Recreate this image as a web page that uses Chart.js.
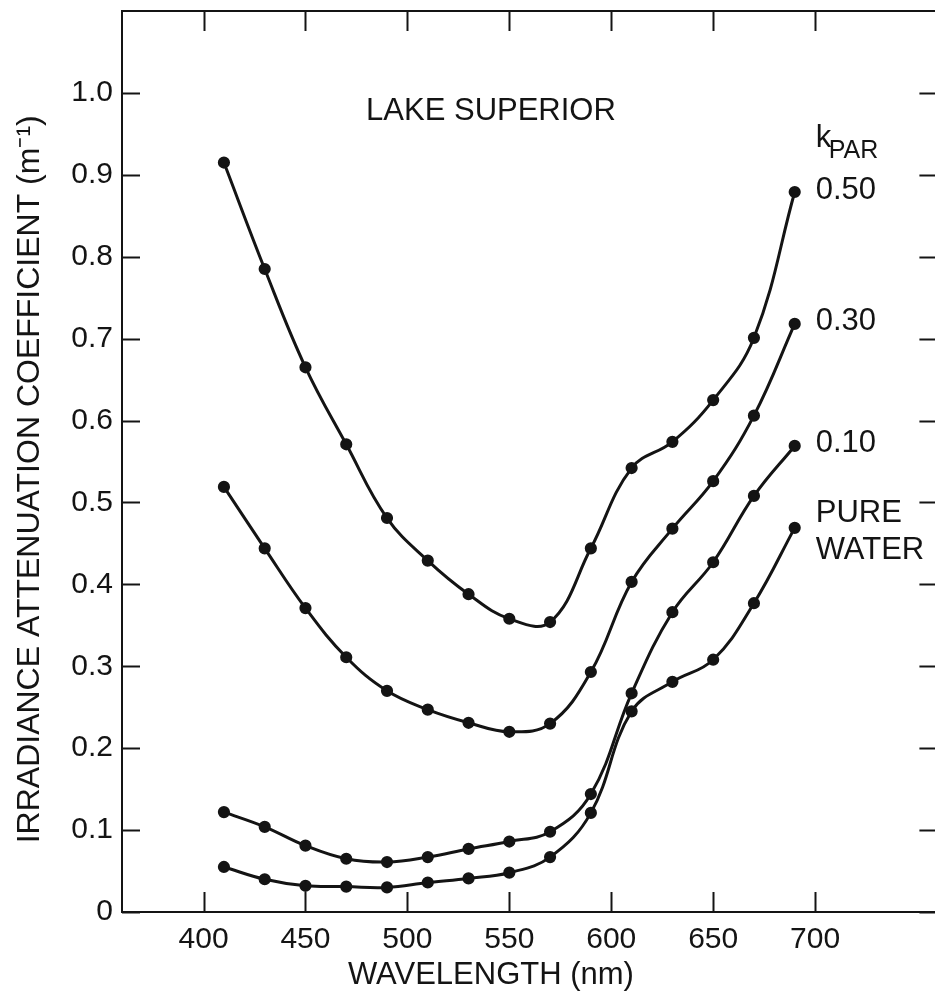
<!DOCTYPE html>
<html><head><meta charset="utf-8">
<script src="https://cdn.jsdelivr.net/npm/chart.js@4.4.1/dist/chart.umd.min.js"></script>
<style>html,body{margin:0;padding:0;background:#fff;overflow:hidden;width:935px;height:1001px}
#wrap{position:relative;width:945px;height:1001px}</style></head>
<body><div id="wrap"><canvas id="c" width="945" height="1001"></canvas></div>
<script>
// ---- data ----
const wavelengths = [410, 430, 450, 470, 490, 510, 530, 550, 570, 590, 610, 630, 650, 670, 690];
const kpar050   = [0.915, 0.785, 0.665, 0.571, 0.481, 0.429, 0.388, 0.358, 0.354, 0.444, 0.542, 0.574, 0.625, 0.701, 0.879];
const kpar030   = [0.519, 0.444, 0.371, 0.311, 0.270, 0.247, 0.231, 0.220, 0.230, 0.293, 0.403, 0.468, 0.526, 0.606, 0.718];
const kpar010   = [0.122, 0.104, 0.081, 0.065, 0.061, 0.067, 0.077, 0.086, 0.098, 0.144, 0.267, 0.366, 0.427, 0.508, 0.569];
const pureWater = [0.055, 0.040, 0.032, 0.031, 0.030, 0.036, 0.041, 0.048, 0.067, 0.121, 0.245, 0.281, 0.308, 0.377, 0.469];
const seriesNames  = ['0.50', '0.30', '0.10', 'PURE WATER'];
const xTickValues  = [400, 450, 500, 550, 600, 650, 700];
const yTickValues  = [0, 0.1, 0.2, 0.3, 0.4, 0.5, 0.6, 0.7, 0.8, 0.9, 1.0];
const yTickLabels  = ['0', '0.1', '0.2', '0.3', '0.4', '0.5', '0.6', '0.7', '0.8', '0.9', '1.0'];
const plotTitle = 'LAKE SUPERIOR';
const xTitle = 'WAVELENGTH (nm)';
const yTitle = 'IRRADIANCE ATTENUATION COEFFICIENT (m\u207B\u00B9)';

const FONT = "'Liberation Sans', Arial, Helvetica, sans-serif";
const INK = '#141414';

function mk(name, vals) {
  return {
    label: name,
    data: wavelengths.map((w, i) => ({x: w, y: vals[i]})),
    borderColor: INK, backgroundColor: INK,
    pointBackgroundColor: INK, pointBorderColor: INK,
    borderWidth: 3, pointRadius: 4.6, pointHoverRadius: 4.6,
    tension: 0.4, fill: false
  };
}

const frame = {
  id: 'frame',
  afterDraw(chart) {
    const {ctx, chartArea: a, scales: {x, y}} = chart;
    ctx.save();
    ctx.strokeStyle = INK; ctx.lineWidth = 2; ctx.lineCap = 'butt';
    // top and right frame lines
    ctx.beginPath();
    ctx.moveTo(a.left, a.top); ctx.lineTo(a.right, a.top); ctx.lineTo(a.right, a.bottom);
    ctx.stroke();
    // inward tick marks
    x.ticks.forEach(t => {
      const px = Math.round(x.getPixelForValue(t.value)) + 0.5;
      ctx.beginPath(); ctx.moveTo(px, a.bottom); ctx.lineTo(px, a.bottom - 20); ctx.stroke();
      ctx.beginPath(); ctx.moveTo(px, a.top); ctx.lineTo(px, a.top + 20); ctx.stroke();
    });
    y.ticks.forEach(t => {
      const py = Math.round(y.getPixelForValue(t.value)) + 0.5;
      ctx.beginPath(); ctx.moveTo(a.left, py); ctx.lineTo(a.left + 18, py); ctx.stroke();
      ctx.beginPath(); ctx.moveTo(a.right, py); ctx.lineTo(a.right - 18, py); ctx.stroke();
    });
    // annotations
    ctx.fillStyle = INK;
    ctx.textBaseline = 'middle';
    ctx.textAlign = 'center';
    ctx.font = '31px ' + FONT;
    ctx.fillText(plotTitle, x.getPixelForValue(541), y.getPixelForValue(0.977));
    ctx.textAlign = 'left';
    const lx = x.getPixelForValue(wavelengths[wavelengths.length - 1]) + 21;
    ctx.font = '31px ' + FONT;
    ctx.textBaseline = 'alphabetic';
    ctx.fillText('k', lx, y.getPixelForValue(0.934));
    ctx.font = '25px ' + FONT;
    ctx.fillText('PAR', lx + 13, y.getPixelForValue(0.920));
    ctx.textBaseline = 'middle';
    ctx.font = '31px ' + FONT;
    const sets = [kpar050, kpar030, kpar010];
    sets.forEach((s, i) => {
      ctx.fillText(seriesNames[i], lx, y.getPixelForValue(s[s.length - 1]) - 2);
    });
    const pw = y.getPixelForValue(pureWater[pureWater.length - 1]);
    const parts = seriesNames[3].split(' ');
    ctx.fillText(parts[0], lx, pw - 14);
    ctx.fillText(parts[1], lx, pw + 23);
    ctx.restore();
  }
};

new Chart(document.getElementById('c'), {
  type: 'line',
  data: { datasets: [mk(seriesNames[0], kpar050), mk(seriesNames[1], kpar030), mk(seriesNames[2], kpar010), mk(seriesNames[3], pureWater)] },
  options: {
    responsive: false, animation: false, devicePixelRatio: 1,
    layout: { padding: { top: 11, right: 3, left: 0, bottom: 0 } },
    plugins: { legend: { display: false }, tooltip: { enabled: false } },
    scales: {
      x: {
        type: 'linear', min: 360, max: 760,
        afterBuildTicks: s => { s.ticks = xTickValues.map(v => ({value: v})); },
        afterFit: s => { s.height = 89; s.paddingLeft = 0; s.paddingRight = 0; },
        grid: { display: false, drawTicks: false },
        border: { display: true, color: INK, width: 2 },
        ticks: { color: INK, font: { family: FONT, size: 30 }, padding: 10, maxRotation: 0, callback: v => String(v) },
        title: { display: true, text: xTitle + '\u00A0\u00A0\u00A0\u00A0\u00A0\u00A0\u00A0\u00A0\u00A0', color: INK, font: { family: FONT, size: 31, lineHeight: 1 }, padding: { top: 0, bottom: 10 } }
      },
      y: {
        type: 'linear', min: 0, max: 1.1,
        afterBuildTicks: s => { s.ticks = yTickValues.map(v => ({value: v})); },
        afterFit: s => { s.width = 122; s.paddingTop = 0; s.paddingBottom = 0; },
        grid: { display: false, drawTicks: false },
        border: { display: true, color: INK, width: 2 },
        ticks: { color: INK, font: { family: FONT, size: 30 }, padding: 9, callback: (v, i) => yTickLabels[i] },
        title: { display: true, text: yTitle + '\u00A0\u00A0\u00A0\u00A0', color: INK, font: { family: FONT, size: 32, lineHeight: 1 }, padding: { top: 14, bottom: 0 } }
      }
    }
  },
  plugins: [frame]
});
</script></body></html>
